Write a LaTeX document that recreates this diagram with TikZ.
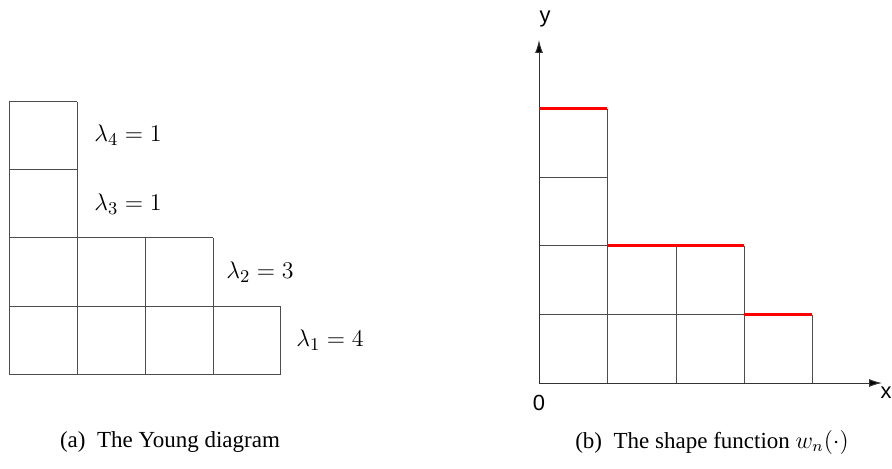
\documentclass[tikz,border=0pt,12pt]{standalone}
\usepackage{fontspec}
\newfontfamily\axisfont{Liberation Sans}
\newfontfamily\capfont{Liberation Serif}
\usetikzlibrary{arrows.meta}
\begin{document}
\begin{tikzpicture}[x=0.5pt,y=-0.5pt,
  gridline/.style={draw=black!70,line width=0.5pt},
  redline/.style={draw=red,line width=1.5pt},
  axis/.style={draw=black!80,line width=0.5pt,-{Latex[length=6.5pt,width=4pt,fill=black]}},
  lab/.style={inner sep=0pt,font=\fontsize{12.5}{15}\selectfont},
  axlab/.style={inner sep=0pt,font=\axisfont\small},
  captext/.style={inner sep=0pt,font=\capfont\fontsize{11.5}{14}\selectfont}]
\useasboundingbox (0,0) rectangle (892,469);
% ---- (a) Young diagram
\draw[gridline] (9,375) rectangle (280,307);
\draw[gridline] (77,375) -- (77,102);
\draw[gridline] (145,375) -- (145,238);
\draw[gridline] (213,375) -- (213,238);
\draw[gridline] (9,375) -- (9,102) -- (77,102);
\draw[gridline] (9,238) -- (213,238);
\draw[gridline] (9,170) -- (77,170);
\node[lab] (l4) at (128,135) {$\lambda_4 = 1$};
\node[lab] (l3) at (128,204) {$\lambda_3 = 1$};
\node[lab] (l2) at (260,272) {$\lambda_2 = 3$};
\node[lab] (l1) at (330,340) {$\lambda_1 = 4$};
% ---- (b) shape function
\coordinate (O) at (539,383);
\coordinate (ytip) at (539,40);
\coordinate (xtip) at (882,383);
\draw[gridline] (607,383) -- (607,109);
\draw[gridline] (676,383) -- (676,246);
\draw[gridline] (744,383) -- (744,246);
\draw[gridline] (812,383) -- (812,315);
\draw[gridline] (539,315) -- (812,315);
\draw[gridline] (539,246) -- (744,246);
\draw[gridline] (539,178) -- (607,178);
\draw[axis] (O) -- (ytip);
\draw[axis] (O) -- (xtip);
\draw[redline] (539,109) -- (607,109);
\draw[redline] (607,246) -- (744,246);
\draw[redline] (744,315) -- (812,315);
\node[axlab] (ylab) at (545,19) {y};
\node[axlab] (zlab) at (539,403) {0};
\node[axlab,anchor=east] (xlab) at (892,393) {x};
% ---- captions
\node[captext] (capa) at (170,442) {(a)\ \ The Young diagram};
\node[captext] (capb) at (712,442) {(b)\ \ The shape function \fontsize{12}{14}\selectfont$w_n(\cdot)$};
\end{tikzpicture}
\end{document}
